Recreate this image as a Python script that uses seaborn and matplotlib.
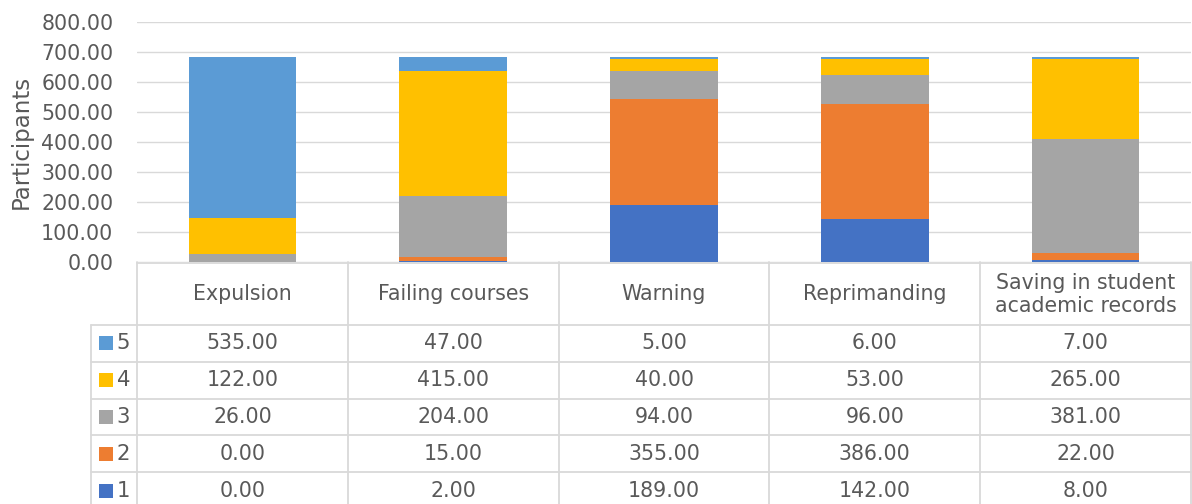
import matplotlib
matplotlib.use("Agg")
import matplotlib.pyplot as plt
import pandas as pd
import seaborn as sns

# data
categories = ["Expulsion", "Failing courses", "Warning", "Reprimanding",
              "Saving in student\nacademic records"]
levels = ["1", "2", "3", "4", "5"]
vals_1 = [0, 2, 189, 142, 8]
vals_2 = [0, 15, 355, 386, 22]
vals_3 = [26, 204, 94, 96, 381]
vals_4 = [122, 415, 40, 53, 265]
vals_5 = [535, 47, 5, 6, 7]
yticks = [0, 100, 200, 300, 400, 500, 600, 700, 800]

colors = {"1": "#4472C4", "2": "#ED7D31", "3": "#A5A5A5",
          "4": "#FFC000", "5": "#5B9BD5"}
series = {"1": vals_1, "2": vals_2, "3": vals_3, "4": vals_4, "5": vals_5}

sns.set_theme(style="white")
plt.rcParams["font.family"] = ["DejaVu Sans"]
txt_col = "#595959"
grid_col = "#d9d9d9"
fs = 14.8

W, H = 1192, 504
fig = plt.figure(figsize=(W / 100, H / 100), dpi=100)
x0, x1 = 137, 1191
ax = fig.add_axes([x0 / W, (H - 262) / H, (x1 - x0) / W, (262 - 22) / H])

# stacked bars, bottom to top 1..5
bottom = pd.Series([0] * len(categories), dtype=float)
for lv in levels:
    df = pd.DataFrame({"cat": categories, "val": series[lv]})
    sns.barplot(data=df, x="cat", y="val", order=categories, color=colors[lv],
                width=0.51, bottom=bottom.values, saturation=1, ax=ax,
                linewidth=0, zorder=3)
    bottom = bottom + pd.Series(series[lv], dtype=float)

ax.set_xlim(-0.5, len(categories) - 0.5)
ax.set_ylim(0, 800)
ax.set_yticks(yticks)
ax.set_yticklabels([f"{v:.2f}" for v in yticks], fontsize=fs, color=txt_col)
ax.tick_params(axis="y", length=0, pad=17)
ax.set_xticks([])
ax.set_xlabel("")
ax.set_ylabel("Participants", fontsize=16.5, color=txt_col)
ax.yaxis.set_label_coords(-104 / (x1 - x0), 0.5)
ax.grid(axis="y", color=grid_col, linewidth=1.0, zorder=0)
for s in ["top", "right", "left", "bottom"]:
    ax.spines[s].set_visible(False)

# data table below the plot, y in pixels below the axis line
tab = fig.add_axes([x0 / W, 0, (x1 - x0) / W, (H - 262) / H])
tab.set_xlim(-0.5, len(categories) - 0.5)
tab.set_ylim(242, 0)
tab.axis("off")
lw = 1.3
leg_x = -0.5 - 46 / 210.8
head_h = 63
row_h = 36.8
n = len(categories)

tab.plot([-0.5, n - 0.5], [0.5, 0.5], color=grid_col, lw=lw, clip_on=False)
for i in range(n + 1):
    tab.plot([i - 0.5, i - 0.5], [0, 250], color=grid_col, lw=lw, clip_on=False)
tab.plot([leg_x, leg_x], [head_h, 250], color=grid_col, lw=lw, clip_on=False)
for r in range(5):
    y = head_h + r * row_h
    tab.plot([leg_x, n - 0.5], [y, y], color=grid_col, lw=lw, clip_on=False)

for i, c in enumerate(categories):
    tab.text(i, head_h / 2 + 1, c, ha="center", va="center", fontsize=fs,
             color=txt_col, linespacing=1.15)

for r, lv in enumerate(levels[::-1]):
    yc = head_h + (r + 0.5) * row_h
    tab.scatter([leg_x + 0.072], [yc], marker="s", s=90, color=colors[lv],
                clip_on=False, linewidths=0)
    tab.text(leg_x + 0.122, yc, lv, ha="left", va="center", fontsize=fs + 0.5,
             color=txt_col)
    for i, v in enumerate(series[lv]):
        tab.text(i, yc, f"{v:.2f}", ha="center", va="center", fontsize=fs,
                 color=txt_col)

fig.savefig("out.png", dpi=100)
